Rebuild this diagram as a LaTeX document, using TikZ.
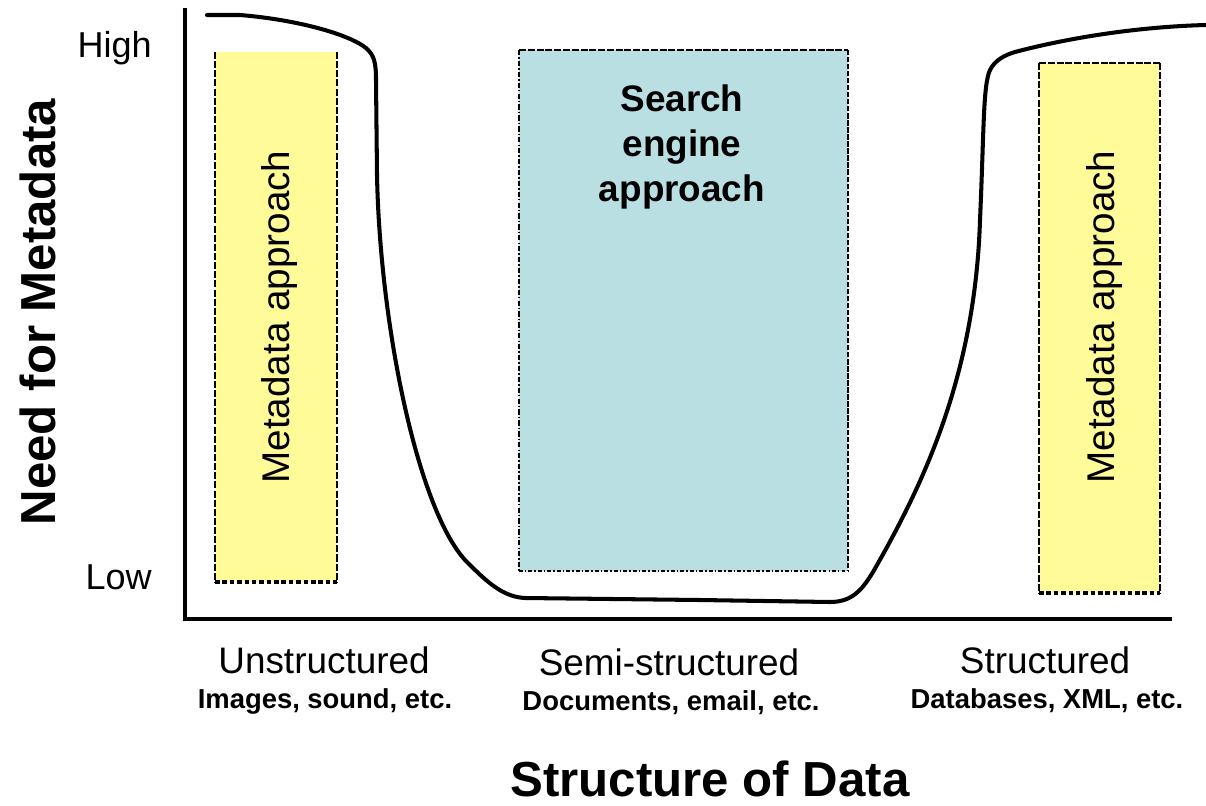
\documentclass[tikz,border=0pt]{standalone}
\usepackage{fontspec}
\setmainfont{Liberation Sans}
\definecolor{paleyellow}{RGB}{255,251,153}
\definecolor{paleteal}{RGB}{186,223,227}
\tikzset{
  axisline/.style={line width=2.3pt},
  curveline/.style={line width=2.3pt, line cap=round, line join=round},
  yside/.style={line width=1.3pt, dash pattern=on 4pt off 1.2pt},
  ybottom/.style={line width=2pt, dash pattern=on 2.6pt off 1.6pt},
  tthin/.style={line width=0.8pt, dash pattern=on 4pt off 1pt},
  tdashdot/.style={line width=0.8pt, dash pattern=on 3pt off 1.2pt on 0.8pt off 1.2pt},
  tright/.style={line width=1.2pt, dash pattern=on 3pt off 1pt},
  tbottom/.style={line width=1.5pt, dash pattern=on 2.2pt off 1.2pt on 0.8pt off 1.2pt},
  bigtitle/.style={font=\fontsize{28}{32}\selectfont\bfseries, inner sep=0pt},
  tick/.style={font=\fontsize{20.5}{24}\selectfont, inner sep=0pt},
  cat/.style={font=\fontsize{21}{25}\selectfont, inner sep=0pt},
  sub/.style={font=\fontsize{15.6}{18}\selectfont\bfseries, inner sep=0pt},
  boxtext/.style={font=\fontsize{22}{26}\selectfont, inner sep=0pt},
  searchtext/.style={font=\fontsize{21}{25.5}\selectfont\bfseries, align=center, inner sep=0pt},
}
\begin{document}
\begin{tikzpicture}[x=0.02cm, y=-0.02cm]
\useasboundingbox (0,0) rectangle (1206,805);

% boxes
\fill[paleyellow] (215,52) rectangle (337,582);
\draw[yside] (215,52) -- (215,582);
\draw[yside] (337,52) -- (337,582);
\draw[ybottom] (215,582) -- (337,582);

\fill[paleyellow] (1039,63) rectangle (1160,593);
\draw[tthin] (1039,63) -- (1160,63);
\draw[yside] (1039,63) -- (1039,593);
\draw[yside] (1160,63) -- (1160,593);
\draw[ybottom] (1039,593) -- (1160,593);

\fill[paleteal] (519,50) rectangle (848,571);
\draw[tthin] (519,50) -- (848,50);
\draw[tdashdot] (519,50) -- (519,571);
\draw[tright] (848,50) -- (848,571);
\draw[tbottom] (519,571) -- (848,571);

% axes
\coordinate (origin) at (185,619);
\coordinate (ytop) at (185,8);
\coordinate (xend) at (1172,619);
\draw[axisline] (ytop) -- (origin) -- (xend);

% curve
\draw[curveline] (207,15) -- (240,15)
  .. controls (300,20) and (350,35) .. (366,48)
  .. controls (374,55) and (376,62) .. (376,80)
  -- (377,175)
  .. controls (380,330) and (420,520) .. (470,565)
  .. controls (490,585) and (505,597) .. (525,598)
  -- (700,600) -- (830,602)
  .. controls (852,602) and (862,590) .. (873,572)
  .. controls (920,490) and (975,380) .. (980,220)
  .. controls (984,130) and (983,85) .. (990,70)
  .. controls (995,60) and (1005,55) .. (1015,52)
  .. controls (1060,40) and (1130,27) .. (1206,25);

% texts
\node[tick, anchor=base east] (high) at (152,57) {High};
\node[tick, anchor=base east] (low) at (152,589) {Low};
\node[bigtitle, rotate=90] (ytitle) at (38,312) {Need for Metadata};
\node[bigtitle, anchor=base] (xtitle) at (710,796) {Structure of Data};

\node[boxtext, rotate=90] (meta1) at (280,317) {Metadata approach};
\node[boxtext, rotate=90] (meta2) at (1104,317) {Metadata approach};
\node[searchtext] (search) at (682,147) {Search\\engine\\approach};

\node[cat, anchor=base] (unst) at (324,673) {Unstructured};
\node[sub, anchor=base] (unstsub) at (325,708) {Images, sound, etc.};
\node[cat, anchor=base] (semi) at (669,675) {Semi-structured};
\node[sub, anchor=base] (semisub) at (671,710) {Documents, email, etc.};
\node[cat, anchor=base] (str) at (1045,673) {Structured};
\node[sub, anchor=base] (strsub) at (1047,708) {Databases, XML, etc.};
\end{tikzpicture}
\end{document}
